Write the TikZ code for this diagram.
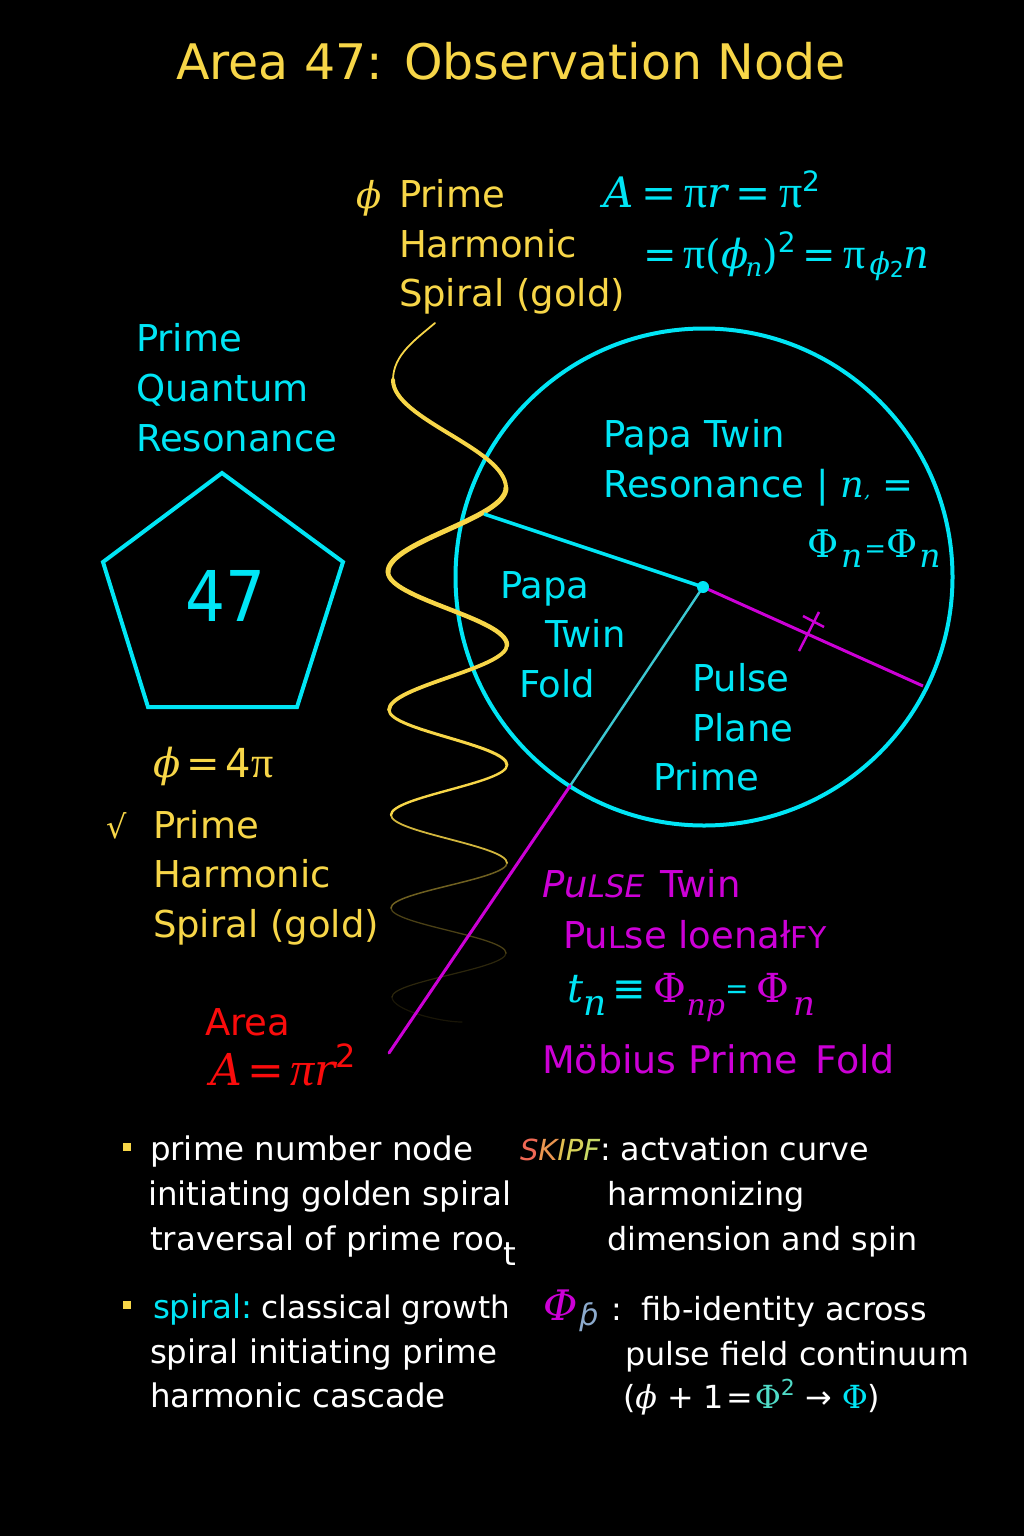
\documentclass[tikz,border=0pt]{standalone}
\usepackage{fontspec}
\setmainfont{DejaVu Sans}
\newfontfamily\sermf{DejaVu Serif}
\newfontfamily\pif{Liberation Serif}
\newcommand{\fs}[1]{\fontsize{#1}{#1}\selectfont}
\newcommand{\mi}[1]{{\sermf\itshape #1}}
\newcommand{\mr}[1]{{\sermf #1}}
\newcommand{\pp}{{\pif π}}
\newcommand{\ppi}{{\pif\itshape π}}
\definecolor{goldc}{RGB}{247,214,72}
\definecolor{cy}{RGB}{0,229,245}
\definecolor{mg}{RGB}{204,0,214}
\definecolor{rd}{RGB}{250,12,12}
\definecolor{tealc}{RGB}{60,200,210}
\definecolor{tealf}{RGB}{80,220,200}
\definecolor{slate}{RGB}{140,170,205}
\definecolor{skA}{RGB}{240,105,85}
\definecolor{skB}{RGB}{235,150,80}
\definecolor{skC}{RGB}{225,190,80}
\definecolor{skD}{RGB}{215,210,90}
\definecolor{skE}{RGB}{200,218,100}
\begin{document}
\begin{tikzpicture}[x=1pt,y=-1pt,
  txt/.style={anchor=base west, inner sep=0pt, outer sep=0pt},
  big/.style={txt, font=\fs{37}},
  leg/.style={txt, font=\fs{32.5}, text=white},
  legr/.style={txt, font=\fs{31.8}, text=white},
  wave/.style={draw=goldc, line cap=round, line join=round},
  ring/.style={draw=cy, line width=4pt}]
\useasboundingbox (0,0) rectangle (1024,1536);
\fill[black] (0,0) rectangle (1024,1536);

% title
\node[anchor=base, inner sep=0pt, font=\fs{49}, text=goldc] (title) at (511,80) {Area 47: Observation Node};

% top labels
\node[txt, font=\fs{37}, text=goldc] (phitop) at (356,208) {\mi{ϕ}};
\node[big, text=goldc] (hs1) at (399,207) {Prime};
\node[big, text=goldc] (hs2) at (399,257) {Harmonic};
\node[big, text=goldc] (hs3) at (399,306) {Spiral (gold)};

\node[txt, font=\fs{42}, text=cy] (fa1) at (603,207) {\mi{A}\hspace{8pt}\mr{=}\hspace{8pt}{\fs{46}\pp}\mi{r}\hspace{8pt}\mr{=}\hspace{8pt}{\fs{46}\pp}\raisebox{16pt}{\fs{28}2}};
\node[txt, font=\fs{40}, text=cy] (fa2) at (643,268) {\mr{=}\hspace{7pt}{\fs{44}\pp}\mr{(}\mi{ϕ}\hspace{-3pt}\raisebox{-8pt}{\fs{26}\mi{n}}\mr{)}\raisebox{16pt}{\fs{28}2}\hspace{7pt}\mr{=}\hspace{7pt}{\fs{44}\pp}\hspace{4pt}\raisebox{-6pt}{\fs{30}\mi{ϕ}}\raisebox{-9pt}{\fs{22}2}\mi{n}};

% left labels
\node[big, text=cy] (pq1) at (136,351) {Prime};
\node[big, text=cy] (pq2) at (136,401) {Quantum};
\node[big, text=cy] (pq3) at (136,451) {Resonance};

% pentagon
\coordinate (p1) at (222,473);
\coordinate (p2) at (343,562);
\coordinate (p3) at (297,707);
\coordinate (p4) at (148,707);
\coordinate (p5) at (103,562);
\draw[draw=cy, line width=4pt, line join=miter] (p1) -- (p2) -- (p3) -- (p4) -- (p5) -- cycle;
\node[inner sep=0pt, font=\fs{70}, text=cy] (num) at (226,596) {\scalebox{0.9}[1]{47}};

\node[txt, font=\fs{40}, text=goldc] (phi4) at (153,777) {\mi{ϕ}\hspace{6pt}\mr{=}\hspace{6pt}4{\fs{44}\pp}};
\node[txt, font=\fs{32}, text=goldc] (sq) at (106,838) {√};
\node[big, text=goldc] (ls1) at (153,838) {Prime};
\node[big, text=goldc] (ls2) at (153,887) {Harmonic};
\node[big, text=goldc] (ls3) at (153,937) {Spiral (gold)};

\node[big, text=rd] (area) at (205,1035) {Area};
\node[txt, font=\fs{44}, text=rd] (areaf) at (210,1085) {\mi{A}\hspace{6pt}\mr{=}\hspace{6pt}{\fs{48}\ppi}\mi{r}\raisebox{18pt}{\fs{32}2}};

% circle
\node[circle, ring, minimum size=497pt, inner sep=0pt] (circ) at (704,577) {};

% wave
\draw[wave, line width=1.8pt] (435,323) .. controls (415,340) and (393,355) .. (393,380);
\draw[wave, line width=4pt] (393,380) .. controls (393,419.2) and (506,448.8) .. (506,488);
\draw[wave, line width=5pt] (506,488) .. controls (506,518.5) and (388,541.5) .. (388,572);
\draw[wave, line width=4.5pt] (388,572) .. controls (388,598.5) and (507,618.5) .. (507,645);
\draw[wave, line width=3.8pt] (507,645) .. controls (507,668.6) and (389,686.4) .. (389,710);
\draw[wave, line width=3pt] (389,710) .. controls (389,730) and (507,745) .. (507,765);
\draw[wave, line width=2.4pt] (507,765) .. controls (507,783.2) and (391,796.8) .. (391,815);
\draw[wave, line width=1.8pt, draw opacity=0.85] (391,815) .. controls (391,832.4) and (507,845.6) .. (507,863);
\draw[wave, line width=1.5pt, draw opacity=0.45] (507,863) .. controls (507,879.3) and (391,891.7) .. (391,908);
\draw[wave, line width=1.3pt, draw opacity=0.3] (391,908) .. controls (391,924.3) and (506,936.7) .. (506,953);
\draw[wave, line width=1.2pt, draw opacity=0.18] (506,953) .. controls (506,969) and (392,981) .. (392,997);
\draw[wave, line width=1.2pt, draw opacity=0.1] (392,997) .. controls (392,1010) and (440,1022) .. (462,1022);

% radial lines
\coordinate (lstart) at (484,514);
\coordinate (dot) at (703,587);
\coordinate (rim) at (923,686);
\coordinate (low) at (570,786);
\coordinate (tail) at (389,1053);
\draw[draw=cy, line width=3.5pt] (lstart) -- (dot);
\draw[draw=mg, line width=3pt] (dot) -- (rim);
\draw[draw=tealc, line width=2.4pt] (dot) -- (low);
\draw[draw=mg, line width=3pt, line cap=round] (low) -- (tail);
\fill[cy] (dot) circle (6pt);
\draw[draw=mg, line width=2.5pt] (799,651) -- (819,612);
\draw[draw=mg, line width=2.5pt] (803,616) -- (824,627);

% circle labels
\node[big, text=cy] (pt1) at (603,447) {Papa Twin};
\node[big, text=cy] (pt2) at (603,497) {Resonance | \mi{n}{\fs{20}\mi{,}} =};
\node[txt, font=\fs{38}, text=cy] (pt3) at (807,557) {\mr{Φ}\hspace{3pt}\raisebox{-10pt}{\fs{33}\mi{n}}\hspace{2pt}{\fs{26}=}\mr{Φ}\hspace{2pt}\raisebox{-10pt}{\fs{33}\mi{n}}};

\node[big, text=cy] (pf1) at (500,598) {Papa};
\node[big, text=cy] (pf2) at (545,647) {Twin};
\node[big, text=cy] (pf3) at (519,697) {Fold};

\node[big, text=cy] (pp1) at (692,691) {Pulse};
\node[big, text=cy] (pp2) at (692,741) {Plane};
\node[big, text=cy] (pp3) at (653,790) {Prime};

% magenta labels
\node[big, text=mg] (mt1) at (542,897) {{\itshape Pu{\fs{31}LSE}}\hspace{4pt} Twin};
\node[big, text=mg] (mt2) at (563,948) {Pu{\fs{30}L}se loenał{\fs{30}FY}};
\node[txt, font=\fs{40}] (mt3) at (567,1002) {\textcolor{cy}{\mi{t}\raisebox{-13pt}{\fs{36}\mi{n}}}\hspace{6pt}\textcolor{cy}{≡}\hspace{8pt}\textcolor{mg}{\mr{Φ}\raisebox{-13pt}{\fs{30}\mi{np}}}\textcolor{cy}{\raisebox{4pt}{\fs{28}=}}\hspace{8pt}\textcolor{mg}{\mr{Φ}\hspace{4pt}\raisebox{-13pt}{\fs{34}\mi{n}}}};
\node[txt, font=\fs{38}, text=mg] (mt4) at (542,1073) {Möbius Prime\, Fold};

% legend
\fill[goldc] (123,1143) rectangle (131,1151);
\fill[goldc] (123,1301) rectangle (131,1309);
\node[leg] (lg1) at (150,1160) {prime number node};
\node[leg] (lg2) at (148,1205) {initiating golden spiral};
\node[leg] (lg3) at (150,1250) {traversal of prime roo\raisebox{-15pt}{t}};
\node[leg] (lg4) at (153,1318) {\textcolor{cy}{spiral:}\hspace{9pt}{\fs{31}classical growth}};
\node[leg] (lg5) at (150,1363) {spiral initiating prime};
\node[leg] (lg6) at (150,1407) {harmonic cascade};

\node[legr] (rg1) at (520,1160) {{\fs{29}\itshape\textcolor{skA}{S}\textcolor{skB}{K}\textcolor{skC}{I}\textcolor{skD}{P}\textcolor{skE}{F}}: actvation curve};
\node[legr] (rg2) at (607,1205) {harmonizing};
\node[legr] (rg3) at (607,1250) {dimension and spin};
\node[txt, font=\fs{42}] (rg4) at (543,1320) {\textcolor{mg}{\mi{Φ}}\hspace{2pt}\textcolor{slate}{\raisebox{-5pt}{\fs{30}\itshape ƥ}}};
\node[legr] (rg5) at (611,1320) {:\ \ fib-identity across};
\node[legr] (rg6) at (625,1365) {pulse field continuum};
\node[legr] (rg7) at (623,1408) {(\mi{ϕ} + 1\hspace{2pt}=\hspace{2pt}\textcolor{tealf}{\mr{Φ}\raisebox{13pt}{\fs{22}2}} → \textcolor{cy}{\mr{Φ}})};
\end{tikzpicture}
\end{document}
